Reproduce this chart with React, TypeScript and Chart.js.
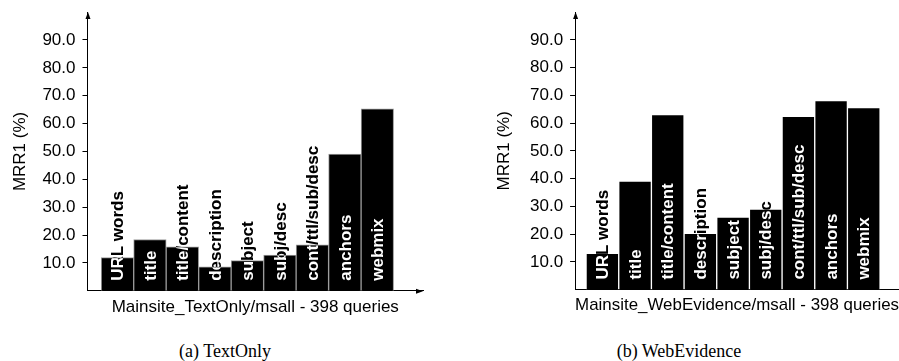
import React, { useEffect, useRef } from "react";
import { Chart, registerables } from "chart.js";

Chart.register(...registerables);

// ---- data ----
const categories = [
  "URL words",
  "title",
  "title/content",
  "description",
  "subject",
  "subj/desc",
  "cont/ttl/sub/desc",
  "anchors",
  "webmix",
];
const textOnlyValues = [11.9, 18.4, 15.8, 8.6, 10.8, 12.8, 16.5, 49.1, 65.3];
const webEvidenceValues = [13.1, 39.1, 63.1, 20.3, 26.1, 29.0, 62.4, 68.1, 65.6];
const yTickValues = [10, 20, 30, 40, 50, 60, 70, 80, 90];
const yAxisTitle = "MRR1 (%)";
const textOnlyXTitle = "Mainsite_TextOnly/msall - 398 queries";
const webEvidenceXTitle = "Mainsite_WebEvidence/msall - 398 queries";
const captionA = "(a) TextOnly";
const captionB = "(b) WebEvidence";

const SANS = "'Liberation Sans', Arial, Helvetica, sans-serif";

const bgPlugin = {
  id: "bgWhite",
  beforeDraw(chart: any) {
    const ctx = chart.ctx;
    ctx.save();
    ctx.fillStyle = "#ffffff";
    ctx.fillRect(0, 0, chart.width, chart.height);
    ctx.restore();
  },
};

const barLabelPlugin = {
  id: "barLabels",
  afterDatasetsDraw(chart: any) {
    const ctx = chart.ctx;
    const meta = chart.getDatasetMeta(0);
    const bottom = chart.chartArea.bottom;
    ctx.save();
    ctx.globalCompositeOperation = "difference";
    ctx.fillStyle = "#ffffff";
    ctx.font = `bold 17px ${SANS}`;
    ctx.textAlign = "left";
    ctx.textBaseline = "middle";
    meta.data.forEach((el: any, i: number) => {
      ctx.save();
      ctx.translate(el.x, bottom - 10);
      ctx.rotate(-Math.PI / 2);
      ctx.fillText(categories[i], 0, 1);
      ctx.restore();
    });
    ctx.restore();
  },
};

const arrowPlugin = {
  id: "axisArrows",
  afterDraw(chart: any, _args: any, pOpts: any) {
    const ctx = chart.ctx;
    const { left, top, right, bottom } = chart.chartArea;
    ctx.save();
    ctx.fillStyle = "#000000";
    ctx.beginPath();
    ctx.moveTo(left + 0.5, top);
    ctx.lineTo(left - 2, top + 7);
    ctx.lineTo(left + 3, top + 7);
    ctx.closePath();
    ctx.fill();
    if (pOpts && pOpts.xArrow) {
      ctx.beginPath();
      ctx.moveTo(right, bottom + 0.5);
      ctx.lineTo(right - 7, bottom - 2);
      ctx.lineTo(right - 7, bottom + 3);
      ctx.closePath();
      ctx.fill();
    }
    ctx.restore();
  },
};

type Opts = {
  padLeft: number;
  padRight: number;
  padTop: number;
  padBottom: number;
  xMin: number;
  xMax: number;
  barBorder: string;
  yTitleBottom: number;
  xArrow: boolean;
};

function makeConfig(values: number[], xTitle: string, o: Opts): any {
  return {
    type: "bar",
    data: {
      datasets: [
        {
          data: values.map((v, i) => ({ x: i, y: v })),
          backgroundColor: "#000000",
          borderColor: o.barBorder,
          borderWidth: 1,
          barPercentage: 1,
          categoryPercentage: 1,
        },
      ],
    },
    options: {
      animation: false,
      responsive: false,
      events: [],
      layout: {
        padding: { left: o.padLeft, right: o.padRight, top: o.padTop, bottom: o.padBottom },
      },
      plugins: {
        legend: { display: false },
        tooltip: { enabled: false },
        axisArrows: { xArrow: o.xArrow },
      },
      scales: {
        x: {
          type: "linear",
          offset: false,
          min: o.xMin,
          max: o.xMax,
          afterBuildTicks: (s: any) => {
            s.ticks = categories.map((_c, i) => ({ value: i }));
          },
          ticks: { display: false },
          grid: { display: false, drawTicks: false, offset: false },
          border: { display: true, color: "#000000", width: 1 },
          title: {
            display: true,
            text: xTitle,
            color: "#000000",
            font: { family: SANS, size: 17 },
            padding: { top: 6, bottom: 0 },
          },
        },
        y: {
          min: 0,
          max: 100,
          afterBuildTicks: (s: any) => {
            s.ticks = yTickValues.map((v) => ({ value: v }));
          },
          ticks: {
            color: "#000000",
            font: { family: SANS, size: 17, lineHeight: 0.6 },
            padding: 7,
            callback: (v: any) => Number(v).toFixed(1),
          },
          grid: {
            display: true,
            drawOnChartArea: false,
            drawTicks: true,
            tickLength: 5,
            color: "#000000",
          },
          border: { display: true, color: "#000000", width: 1 },
          title: {
            display: true,
            text: yAxisTitle,
            color: "#000000",
            font: { family: SANS, size: 17 },
            padding: { top: 0, bottom: o.yTitleBottom },
          },
        },
      },
    },
    plugins: [bgPlugin, barLabelPlugin, arrowPlugin],
  };
}

function BarChart(props: { values: number[]; xTitle: string; opts: Opts; width: number; height: number }) {
  const ref = useRef<HTMLCanvasElement | null>(null);
  useEffect(() => {
    if (!ref.current) return;
    const chart = new Chart(ref.current, makeConfig(props.values, props.xTitle, props.opts));
    return () => chart.destroy();
  }, []);
  return (
    <canvas
      ref={ref}
      width={props.width}
      height={props.height}
      style={{ display: "block", width: props.width, height: props.height }}
    />
  );
}

export default function App() {
  const captionStyle: React.CSSProperties = {
    position: "absolute",
    width: 240,
    textAlign: "center",
    fontFamily: "'Liberation Serif', 'Times New Roman', serif",
    fontSize: 18,
    lineHeight: "18px",
    color: "#000",
    whiteSpace: "nowrap",
  };
  return (
    <div
      style={{
        position: "absolute",
        left: 0,
        top: 0,
        width: 899,
        height: 361,
        overflow: "hidden",
        background: "#fff",
      }}
    >
      <div style={{ position: "absolute", left: 0, top: 0 }}>
        <BarChart
          values={textOnlyValues}
          xTitle={textOnlyXTitle}
          width={450}
          height={330}
          opts={{
            padLeft: 10,
            padRight: 27,
            padTop: 12,
            padBottom: 12.8,
            xMin: -0.922,
            xMax: 9.405,
            barBorder: "#9a9a9a",
            yTitleBottom: 5,
            xArrow: true,
          }}
        />
      </div>
      <div style={{ position: "absolute", left: 450, top: 0 }}>
        <BarChart
          values={webEvidenceValues}
          xTitle={webEvidenceXTitle}
          width={460}
          height={330}
          opts={{
            padLeft: 44.6,
            padRight: 11,
            padTop: 11.4,
            padBottom: 14,
            xMin: -0.836,
            xMax: 9.079,
            barBorder: "#ffffff",
            yTitleBottom: 8,
            xArrow: false,
          }}
        />
      </div>
      <div style={{ ...captionStyle, left: 105, top: 342 }}>{captionA}</div>
      <div style={{ ...captionStyle, left: 559, top: 342 }}>{captionB}</div>
    </div>
  );
}
